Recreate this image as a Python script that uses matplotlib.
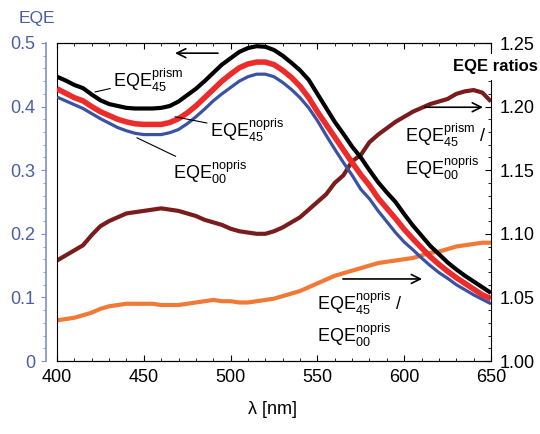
import matplotlib
matplotlib.use("Agg")
import matplotlib.pyplot as plt
from matplotlib.ticker import MultipleLocator, FuncFormatter

plt.rcParams['font.family'] = ['Liberation Sans', 'DejaVu Sans']
plt.rcParams['mathtext.fontset'] = 'custom'
plt.rcParams['mathtext.rm'] = 'Liberation Sans'
plt.rcParams['mathtext.it'] = 'Liberation Sans:italic'
plt.rcParams['mathtext.bf'] = 'Liberation Sans:bold'

wavelength = [400, 405, 410, 415, 420, 425, 430, 435, 440, 445, 450, 455, 460, 465, 470,
              475, 480, 485, 490, 495, 500, 505, 510, 515, 520, 525, 530, 535, 540, 545,
              550, 555, 560, 565, 570, 575, 580, 585, 590, 595, 600, 605, 610, 615, 620,
              625, 630, 635, 640, 645, 650]

eqe45_prism = [0.447, 0.441, 0.434, 0.429, 0.419, 0.410, 0.404, 0.401, 0.398, 0.397,
               0.397, 0.397, 0.398, 0.401, 0.408, 0.418, 0.428, 0.440, 0.453, 0.466,
               0.476, 0.486, 0.492, 0.495, 0.494, 0.489, 0.480, 0.469, 0.457, 0.442,
               0.420, 0.398, 0.376, 0.357, 0.337, 0.320, 0.300, 0.281, 0.265, 0.250,
               0.231, 0.213, 0.197, 0.181, 0.168, 0.155, 0.144, 0.134, 0.125, 0.116,
               0.107]
eqe45_nopris = [0.428, 0.421, 0.414, 0.409, 0.400, 0.392, 0.386, 0.380, 0.376, 0.373,
                0.372, 0.372, 0.372, 0.375, 0.381, 0.390, 0.401, 0.414, 0.427, 0.440,
                0.451, 0.461, 0.467, 0.470, 0.470, 0.466, 0.457, 0.446, 0.432, 0.414,
                0.392, 0.372, 0.352, 0.332, 0.312, 0.293, 0.276, 0.256, 0.240, 0.224,
                0.207, 0.192, 0.178, 0.164, 0.152, 0.141, 0.131, 0.122, 0.113, 0.104,
                0.098]
eqe00_nopris = [0.415, 0.409, 0.403, 0.397, 0.389, 0.381, 0.374, 0.367, 0.362, 0.358,
                0.356, 0.356, 0.356, 0.359, 0.364, 0.373, 0.384, 0.396, 0.409, 0.420,
                0.430, 0.440, 0.447, 0.451, 0.451, 0.447, 0.438, 0.427, 0.414, 0.398,
                0.378, 0.355, 0.333, 0.312, 0.292, 0.270, 0.255, 0.236, 0.219, 0.202,
                0.187, 0.175, 0.162, 0.150, 0.139, 0.130, 0.120, 0.112, 0.104, 0.097,
                0.090]
ratio_prism45_nopris00 = [1.079, 1.083, 1.087, 1.091, 1.099, 1.106, 1.110, 1.113, 1.116,
                          1.117, 1.118, 1.119, 1.120, 1.119, 1.118, 1.116, 1.114, 1.111,
                          1.109, 1.107, 1.104, 1.102, 1.101, 1.100, 1.100, 1.102, 1.105,
                          1.109, 1.113, 1.119, 1.125, 1.131, 1.140, 1.146, 1.157, 1.162,
                          1.172, 1.178, 1.183, 1.188, 1.192, 1.196, 1.199, 1.202, 1.204,
                          1.206, 1.210, 1.212, 1.213, 1.211, 1.204]
ratio_nopris45_nopris00 = [1.032, 1.033, 1.034, 1.036, 1.038, 1.041, 1.043, 1.044, 1.045,
                           1.045, 1.045, 1.045, 1.044, 1.044, 1.044, 1.045, 1.046, 1.047,
                           1.048, 1.047, 1.047, 1.046, 1.046, 1.047, 1.048, 1.049, 1.051,
                           1.053, 1.055, 1.058, 1.061, 1.064, 1.067, 1.069, 1.071, 1.073,
                           1.075, 1.077, 1.078, 1.079, 1.080, 1.081, 1.083, 1.085, 1.086,
                           1.088, 1.090, 1.091, 1.092, 1.093, 1.093]

BLUE = '#4a5ea8'
BLUE_SPINE = '#7f8fc8'

fig = plt.figure(figsize=(5.4, 4.34), dpi=100)
ax = fig.add_axes([57/540, 1-361/434, 434/540, 318/434])
ax2 = ax.twinx()
ax.set_zorder(ax2.get_zorder() + 1)
ax.patch.set_visible(False)

# ratio curves (right axis)
ax2.plot(wavelength, ratio_prism45_nopris00, color='#7a1c1c', lw=3.0, solid_capstyle='butt')
ax2.plot(wavelength, ratio_nopris45_nopris00, color='#f07a35', lw=3.0, solid_capstyle='butt')

# EQE curves (left axis)
ax.plot(wavelength, eqe00_nopris, color='#3a52a4', lw=2.3, solid_capstyle='butt')
ax.plot(wavelength, eqe45_nopris, color='#ee2b2b', lw=4.0, solid_capstyle='butt')
ax.plot(wavelength, eqe45_prism, color='black', lw=3.0, solid_capstyle='butt')

ax.set_xlim(400, 650)
ax.set_ylim(0, 0.5)
ax2.set_ylim(1.0, 1.25)

# left axis styling
ax.spines['left'].set_position(('outward', 8))
ax.spines['left'].set_color(BLUE_SPINE)
ax.spines['left'].set_linewidth(1.2)
ax.spines['right'].set_visible(False)
ax.yaxis.set_major_locator(MultipleLocator(0.1))
ax.yaxis.set_minor_locator(MultipleLocator(0.02))
ax.yaxis.set_major_formatter(FuncFormatter(lambda v, p: '0' if abs(v) < 1e-9 else f'{v:.1f}'))
ax.tick_params(axis='y', which='both', direction='out', colors=BLUE_SPINE, labelcolor=BLUE,
               labelsize=13, pad=4)
ax.tick_params(axis='y', which='major', length=3.5)
ax.tick_params(axis='y', which='minor', length=2.5)

ax.xaxis.set_major_locator(MultipleLocator(50))
ax.xaxis.set_minor_locator(MultipleLocator(10))
ax.tick_params(axis='x', which='both', direction='in', top=True, labelsize=13, pad=6)
ax.tick_params(axis='x', which='major', length=4)
ax.tick_params(axis='x', which='minor', length=2.5)

# right axis styling
ax2.yaxis.set_major_locator(MultipleLocator(0.05))
ax2.yaxis.set_minor_locator(MultipleLocator(0.01))
ax2.yaxis.set_major_formatter(FuncFormatter(lambda v, p: f'{v:.2f}'))
ax2.tick_params(axis='y', which='both', direction='in', labelsize=13, pad=6)
ax2.tick_params(axis='y', which='major', length=4)
ax2.tick_params(axis='y', which='minor', length=2.5)
for s in ax2.spines.values():
    s.set_color('black')

# labels
fig.text(37/540, 1-18/434, 'EQE', ha='center', va='center', color=BLUE, fontsize=12.5)
fig.text(453/540, 1-67/434, 'EQE ratios', ha='left', va='center', fontsize=12, fontweight='bold',
         bbox=dict(facecolor='white', edgecolor='none', pad=4))
fig.text(272/540, 1-410/434, 'λ [nm]', ha='center', va='center', fontsize=13)

# arrows
arr = dict(arrowstyle='->', lw=1.2, color='black', mutation_scale=16, shrinkA=0, shrinkB=0)
ax.annotate('', xy=(468, 0.484), xytext=(492.7, 0.484), arrowprops=arr)
ax.annotate('', xy=(645.4, 0.399), xytext=(612, 0.399), arrowprops=arr)
ax.annotate('', xy=(610.3, 0.129), xytext=(564.7, 0.129), arrowprops=arr)

# curve labels with leader lines
lead = dict(arrowstyle='-', lw=0.8, color='black', shrinkA=0, shrinkB=0)
ax.annotate(r'$\mathrm{EQE}_{45}^{\mathrm{prism}}$', xy=(421.9, 0.423), xytext=(432.3, 0.442),
            ha='left', va='center', fontsize=13, arrowprops=lead)
ax.annotate(r'$\mathrm{EQE}_{45}^{\mathrm{nopris}}$', xy=(468, 0.384), xytext=(488, 0.362),
            ha='left', va='center', fontsize=13, arrowprops=lead)
ax.annotate(r'$\mathrm{EQE}_{00}^{\mathrm{nopris}}$', xy=(446, 0.351), xytext=(466.8, 0.296),
            ha='left', va='center', fontsize=13, arrowprops=lead)

ax.text(600.5, 0.354, r'$\mathrm{EQE}_{45}^{\mathrm{prism}}$ /', ha='left', va='center', fontsize=13)
ax.text(600.5, 0.303, r'$\mathrm{EQE}_{00}^{\mathrm{nopris}}$', ha='left', va='center', fontsize=13)
ax.text(549.8, 0.091, r'$\mathrm{EQE}_{45}^{\mathrm{nopris}}$ /', ha='left', va='center', fontsize=13)
ax.text(549.8, 0.041, r'$\mathrm{EQE}_{00}^{\mathrm{nopris}}$', ha='left', va='center', fontsize=13)

fig.savefig('out.png', dpi=100)
